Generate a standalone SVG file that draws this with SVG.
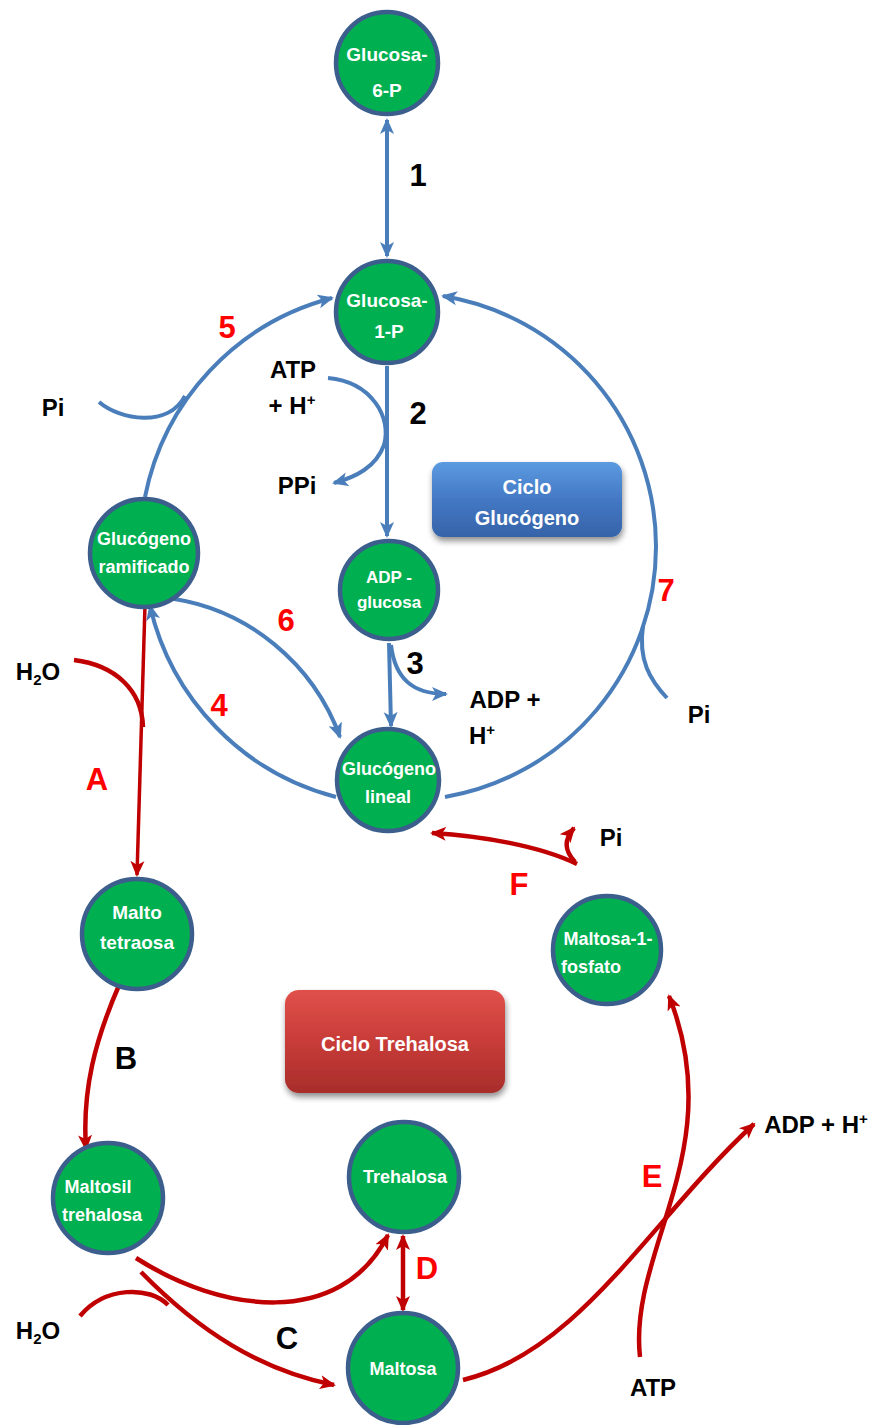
<svg xmlns="http://www.w3.org/2000/svg" width="875" height="1425" viewBox="0 0 875 1425">
<defs>
<marker id="ab" markerUnits="userSpaceOnUse" markerWidth="18" markerHeight="16" refX="14" refY="8" orient="auto-start-reverse"><path d="M0,1 L16,8 L0,15 L4,8 Z" fill="#4A7EBB"/></marker>
<marker id="ar" markerUnits="userSpaceOnUse" markerWidth="18" markerHeight="16" refX="14" refY="8" orient="auto-start-reverse"><path d="M0,1 L16,8 L0,15 L4,8 Z" fill="#C00000"/></marker>
<linearGradient id="gb" x1="0" y1="0" x2="0" y2="1"><stop offset="0" stop-color="#5B9BE0"/><stop offset="0.5" stop-color="#4478C4"/><stop offset="1" stop-color="#3563A8"/></linearGradient>
<linearGradient id="gr" x1="0" y1="0" x2="0" y2="1"><stop offset="0" stop-color="#E0504A"/><stop offset="0.5" stop-color="#C83C38"/><stop offset="1" stop-color="#A82D2B"/></linearGradient>
<filter id="sh" x="-10%" y="-10%" width="130%" height="140%"><feGaussianBlur in="SourceAlpha" stdDeviation="3"/><feOffset dx="1" dy="4"/><feComponentTransfer><feFuncA type="linear" slope="0.45"/></feComponentTransfer><feMerge><feMergeNode/><feMergeNode in="SourceGraphic"/></feMerge></filter>
</defs>
<style>
.n circle{fill:#00B050;stroke:#3B5E8C;stroke-width:4.5}
.n text,.btn text{fill:#fff;font-family:"Liberation Sans",Arial,sans-serif;font-weight:bold;font-size:19px;text-anchor:middle}
.b{fill:none;stroke:#4A7EBB;stroke-width:4}
.r{fill:none;stroke:#C00000;stroke-width:4.5}
.lb{font-family:"Liberation Sans",Arial,sans-serif;font-weight:bold;font-size:24px;fill:#000;text-anchor:middle}
.num{font-family:"Liberation Sans",Arial,sans-serif;font-weight:bold;font-size:31px;text-anchor:middle}
.k{fill:#000}.rd{fill:#FF0000}
</style>
<g id="connectors">
<!-- blue -->
<path class="b" d="M387,120 L387,256" marker-start="url(#ab)" marker-end="url(#ab)"/>
<path class="b" d="M387,366 L387,536" marker-end="url(#ab)"/>
<path class="b" d="M328,378 C372,382 392,418 384,445 C376,467 356,477 334,483" marker-end="url(#ab)"/>
<path class="b" d="M389,643 L391,726" marker-end="url(#ab)"/>
<path class="b" d="M391,645 C395,678 412,694 446,694" marker-end="url(#ab)"/>
<path class="b" d="M145,497 A257,257 0 0 1 332,298" marker-end="url(#ab)"/>
<path class="b" d="M99,402 C120,420 168,428 185,396"/>
<path class="b" d="M445,797 A254,254 0 0 0 443,296" marker-end="url(#ab)"/>
<path class="b" d="M667,698 C650,680 638,660 643,626"/>
<path class="b" d="M336,797 A257,257 0 0 1 150,606" marker-end="url(#ab)"/>
<path class="b" d="M158,597 C250,605 315,668 340,737" marker-end="url(#ab)"/>
<!-- red -->
<path class="r" style="stroke-width:3.5" d="M145,605 L137,875" marker-end="url(#ar)"/>
<path class="r" d="M74,660 C115,665 142,690 143,727"/>
<path class="r" d="M120,983 C95,1040 82,1090 86,1149" marker-end="url(#ar)"/>
<path class="r" d="M136,1258 C220,1312 340,1330 388,1235" marker-end="url(#ar)"/>
<path class="r" d="M141,1272 C200,1332 260,1370 334,1385" marker-end="url(#ar)"/>
<path class="r" d="M80,1316 C105,1286 150,1286 168,1305"/>
<path class="r" d="M403,1236 L403,1310" marker-start="url(#ar)" marker-end="url(#ar)"/>
<path class="r" d="M463,1380 C580,1352 650,1220 754,1124" marker-end="url(#ar)"/>
<path class="r" d="M640,1357 C628,1250 730,1150 669,996" marker-end="url(#ar)"/>
<path class="r" d="M577,864 C540,846 482,836 432,833" marker-end="url(#ar)"/>
<path class="r" d="M575,862 C564,850 564,840 574,828" marker-end="url(#ar)"/>
</g>
<g id="n-g6p" class="n"><circle cx="387" cy="63" r="51"/><text x="387" y="61">Glucosa-</text><text x="387" y="97">6-P</text></g>
<g id="n-g1p" class="n"><circle cx="387" cy="312" r="51"/><text x="387" y="307">Glucosa-</text><text x="389" y="338">1-P</text></g>
<g id="n-adpg" class="n"><circle cx="389" cy="590" r="49"/><text x="389" y="583" style="font-size:17px">ADP -</text><text x="389" y="608" style="font-size:17px">glucosa</text></g>
<g id="n-glin" class="n"><circle cx="388" cy="780" r="51"/><text x="389" y="775" style="font-size:18px">Glucógeno</text><text x="388" y="803" style="font-size:18px">lineal</text></g>
<g id="n-gram" class="n"><circle cx="144" cy="553" r="54"/><text x="144" y="545" style="font-size:18px">Glucógeno</text><text x="144" y="573" style="font-size:18px">ramificado</text></g>
<g id="n-mtet" class="n"><circle cx="137" cy="934" r="55"/><text x="137" y="919">Malto</text><text x="137" y="949">tetraosa</text></g>
<g id="n-m1f" class="n"><circle cx="607" cy="950" r="54"/><text x="608" y="945" style="font-size:18px">Maltosa-1-</text><text x="591" y="973" style="font-size:18px">fosfato</text></g>
<g id="n-mtre" class="n"><circle cx="108" cy="1198" r="55"/><text x="98" y="1193" style="font-size:18px">Maltosil</text><text x="102" y="1221" style="font-size:18px">trehalosa</text></g>
<g id="n-tre" class="n"><circle cx="404" cy="1177" r="55"/><text x="405" y="1183" style="font-size:18px">Trehalosa</text></g>
<g id="n-mal" class="n"><circle cx="403" cy="1368" r="55"/><text x="403" y="1375" style="font-size:18px">Maltosa</text></g>
<g id="btn-glu" class="btn"><rect x="432" y="462" width="190" height="75" rx="11" fill="url(#gb)" filter="url(#sh)"/><text x="527" y="494" style="font-size:20px">Ciclo</text><text x="527" y="525" style="font-size:20px">Glucógeno</text></g>
<g id="btn-tre" class="btn"><rect x="285" y="990" width="220" height="103" rx="14" fill="url(#gr)" filter="url(#sh)"/><text x="395" y="1051" style="font-size:20px">Ciclo Trehalosa</text></g>
<g id="labels">
<text class="num k" x="418" y="186">1</text>
<text class="num k" x="418" y="424">2</text>
<text class="num k" x="415" y="674">3</text>
<text class="num rd" x="227" y="338">5</text>
<text class="num rd" x="286" y="631">6</text>
<text class="num rd" x="219" y="716">4</text>
<text class="num rd" x="666" y="601">7</text>
<text class="num rd" x="97" y="790">A</text>
<text class="num k" x="126" y="1069">B</text>
<text class="num k" x="287" y="1349">C</text>
<text class="num rd" x="427" y="1279">D</text>
<text class="num rd" x="652" y="1187">E</text>
<text class="num rd" x="519" y="895">F</text>
<text class="lb" x="53" y="416">Pi</text>
<text class="lb" x="293" y="378">ATP</text>
<text class="lb" x="292" y="414">+ H<tspan dy="-9" font-size="15">+</tspan></text>
<text class="lb" x="297" y="494">PPi</text>
<text class="lb" x="505" y="708">ADP +</text>
<text class="lb" x="482" y="744">H<tspan dy="-9" font-size="15">+</tspan></text>
<text class="lb" x="699" y="723">Pi</text>
<text class="lb" x="38" y="680">H<tspan dy="5" font-size="15">2</tspan><tspan dy="-5">O</tspan></text>
<text class="lb" x="611" y="846">Pi</text>
<text class="lb" x="816" y="1133">ADP + H<tspan dy="-9" font-size="15">+</tspan></text>
<text class="lb" x="653" y="1396">ATP</text>
<text class="lb" x="38" y="1339">H<tspan dy="5" font-size="15">2</tspan><tspan dy="-5">O</tspan></text>
</g>
</svg>
